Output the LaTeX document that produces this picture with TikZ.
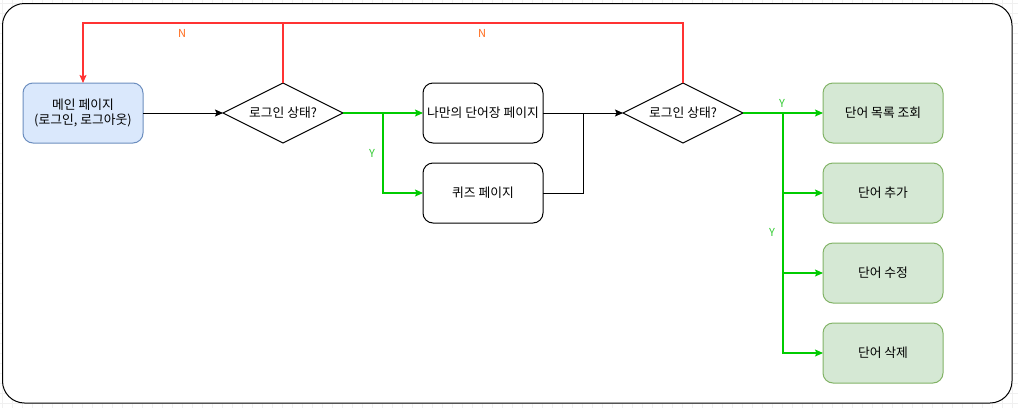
\documentclass[tikz,border=0pt]{standalone}
\usepackage{fontspec}
\setmainfont{Noto Sans CJK KR}
\usetikzlibrary{shapes.geometric,arrows.meta}
\definecolor{bluefill}{HTML}{DAE8FC}
\definecolor{bluedraw}{HTML}{6C8EBF}
\definecolor{greenfill}{HTML}{D5E8D4}
\definecolor{greendraw}{HTML}{82B366}
\definecolor{redline}{HTML}{FF3333}
\definecolor{greenline}{HTML}{00CC00}
\definecolor{ncol}{HTML}{FF6A1A}
\definecolor{ycol}{HTML}{33CC33}
\definecolor{gridc}{HTML}{F0F0F0}
\tikzset{
  x=1pt, y=-1pt,
  every node/.style={font=\fontsize{12.8}{15.5}\selectfont},
  box/.style={rectangle, rounded corners=10pt, minimum width=120pt, minimum height=60pt, draw=black, line width=1pt, inner sep=0pt, outer sep=0pt, align=center},
  bluebox/.style={box, fill=bluefill, draw=bluedraw},
  greenbox/.style={box, fill=greenfill, draw=greendraw},
  dia/.style={diamond, aspect=2, minimum width=120pt, minimum height=60pt, draw=black, line width=1pt, inner sep=0pt, outer sep=0pt},
  tipa/.style={-{Stealth[length=8pt,width=7pt,inset=1.5pt]}},
  blkln/.style={draw=black, line width=1pt},
  redln/.style={draw=redline, line width=1.1pt},
  grnln/.style={draw=greenline, line width=1.1pt},
  lab/.style={font=\fontsize{11}{13}\selectfont, inner sep=0pt},
}
\begin{document}
\begin{tikzpicture}
\useasboundingbox (0,0) rectangle (1018,408);
% faint background grid
\foreach \gx in {2,12,...,1018} {\draw[gridc, line width=0.5pt] (\gx,0) -- (\gx,408);}
\foreach \gy in {3,13,...,408} {\draw[gridc, line width=0.5pt] (0,\gy) -- (1018,\gy);}
% outer frame
\draw[black, line width=1pt, fill=white, rounded corners=22pt] (2.5,3.5) rectangle (1012,403);

% nodes
\node[bluebox] (main) at (83,113) {메인 페이지\\(로그인, 로그아웃)};
\node[dia] (d1) at (283,113) {로그인 상태?};
\node[box] (voc) at (483,113) {나만의 단어장 페이지};
\node[box] (quiz) at (483,193) {퀴즈 페이지};
\node[dia] (d2) at (683,113) {로그인 상태?};
\node[greenbox] (g1) at (883,113) {단어 목록 조회};
\node[greenbox] (g2) at (883,193) {단어 추가};
\node[greenbox] (g3) at (883,273) {단어 수정};
\node[greenbox] (g4) at (883,353) {단어 삭제};

% coordinates
\coordinate (rtop1) at (283,23);
\coordinate (rtop0) at (83,23);
\coordinate (rtop2) at (683,23);
\coordinate (br1) at (383,113);
\coordinate (bk) at (583,113);
\coordinate (br2) at (783,113);

% connectors
\draw[blkln, tipa] (main.east) -- (d1.west);
\draw[redln, tipa] (d1.north) -- (rtop1) -- (rtop0) -- (main.north);
\draw[redln] (d2.north) -- (rtop2) -- (rtop1);
\draw[grnln, tipa] (d1.east) -- (voc.west);
\draw[grnln, tipa] (br1) |- (quiz.west);
\draw[blkln, tipa] (voc.east) -- (d2.west);
\draw[blkln] (quiz.east) -| (bk);
\draw[grnln, tipa] (d2.east) -- (g1.west);
\draw[grnln, tipa] (br2) |- (g2.west);
\draw[grnln, tipa] (br2) |- (g3.west);
\draw[grnln, tipa] (br2) |- (g4.west);

% labels
\node[lab, text=ncol] (n1) at (182,33) {N};
\node[lab, text=ncol] (n2) at (482,33) {N};
\node[lab, text=ycol] (y1) at (372,153) {Y};
\node[lab, text=ycol] (y2) at (782,103) {Y};
\node[lab, text=ycol] (y3) at (772,232) {Y};
\end{tikzpicture}
\end{document}
